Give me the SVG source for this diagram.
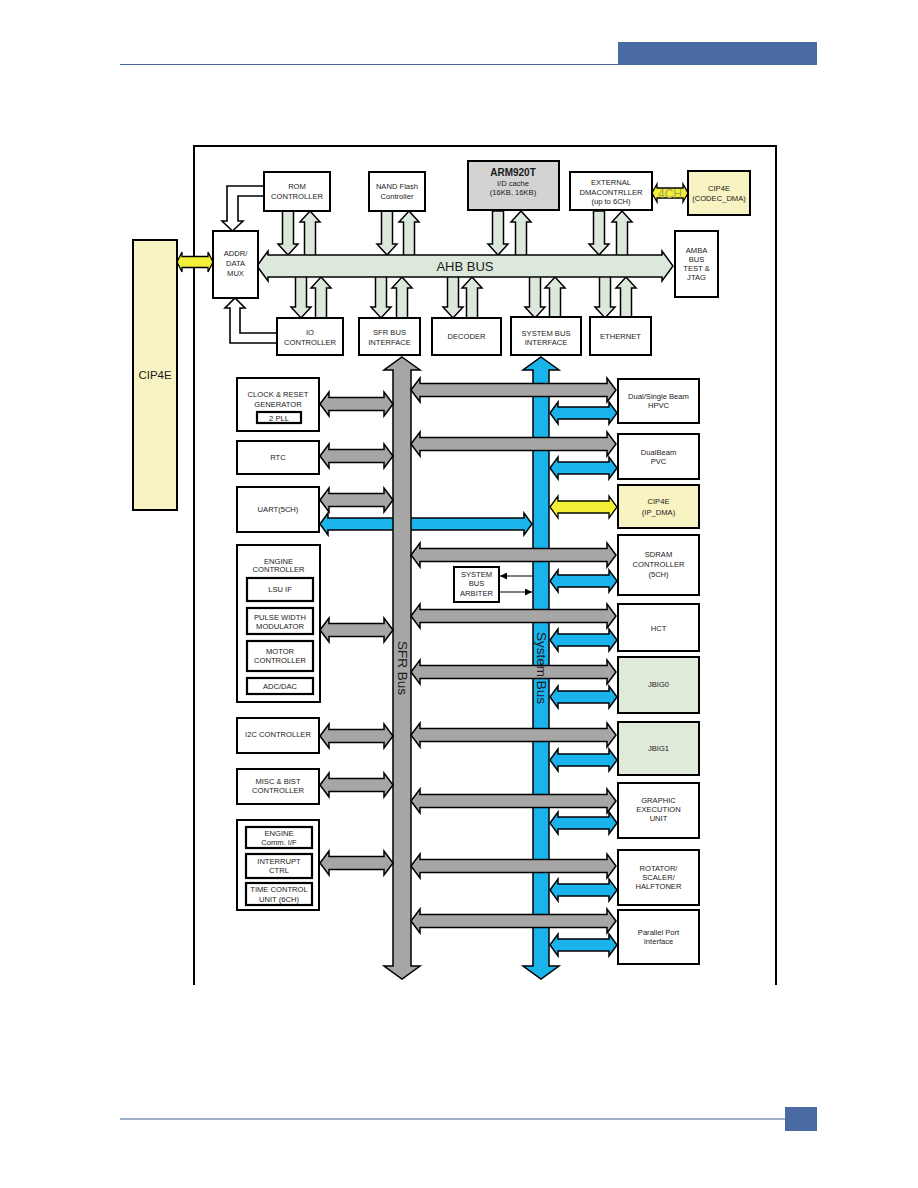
<svg xmlns="http://www.w3.org/2000/svg" xmlns:xlink="http://www.w3.org/1999/xlink" width="918" height="1188" viewBox="0 0 918 1188">
<style>
.box{fill:#fff;stroke:#000;stroke-width:2}
.ibox{fill:#fff;stroke:#000;stroke-width:2.2}
.gbox{fill:#d3d3d3;stroke:#000;stroke-width:2}
.ybox{fill:#f8f3c2;stroke:#000;stroke-width:2}
.jbox{fill:#dfeadb;stroke:#000;stroke-width:2}
.t{font-family:"Liberation Sans",Arial,sans-serif;font-size:7.6px;text-anchor:middle;fill:#1a1a1a}
.big{font-family:"Liberation Sans",Arial,sans-serif;text-anchor:middle;fill:#1a1a1a}
.ahb{fill:#dde8dc;stroke:#000;stroke-width:1.5}
.gray{fill:#a6a6a6;stroke:#000;stroke-width:1.5}
.blue{fill:#1ab3eb;stroke:#000;stroke-width:1.5}
.yel{fill:#f2ef36;stroke:#000;stroke-width:1.3}
.hol{fill:#fff;stroke:#000;stroke-width:1.6}
.thin{fill:none;stroke:#000;stroke-width:1.2}
</style>
<defs>
<polygon id="dA" points="-5.5,211 5.5,211 5.5,244 10,244 0,255 -10,244 -5.5,244"/>
<polygon id="uA" points="0,211 10,222 5.5,222 5.5,258 -5.5,258 -5.5,222 -10,222"/>
<polygon id="dB" points="-5.5,274 5.5,274 5.5,307 10,307 0,318 -10,307 -5.5,307"/>
<polygon id="uB" points="0,277 10,288 5.5,288 5.5,318 -5.5,318 -5.5,288 -10,288"/>
<polygon id="gR" points="411,0 420,-12 420,-6.5 607,-6.5 607,-12 616,0 607,12 607,6.5 420,6.5 420,12"/>
<polygon id="bR" points="550,0 558,-11 558,-6 609,-6 609,-11 617,0 609,11 609,6 558,6 558,11"/>
<polygon id="gL" points="320,0 329,-12 329,-6.5 384,-6.5 384,-12 393,0 384,12 384,6.5 329,6.5 329,12"/>
<marker id="ah" viewBox="0 0 10 10" refX="10" refY="5" markerWidth="7" markerHeight="7" orient="auto-start-reverse" markerUnits="userSpaceOnUse">
<path d="M0,0 L10,5 L0,10 z" fill="#000"/>
</marker>
</defs>

<!-- page header / footer -->
<g id="page">
<line x1="120" y1="64.5" x2="618" y2="64.5" stroke="#46659a" stroke-width="1"/>
<rect x="618" y="42" width="199" height="23" fill="#4a6aa3"/>
<line x1="120" y1="1119" x2="786" y2="1119" stroke="#46659a" stroke-width="1.2"/>
<rect x="785" y="1107" width="32" height="24" fill="#4a6aa3"/>
<path d="M194,985 L194,146 L776,146 L776,985" fill="none" stroke="#000" stroke-width="2"/>
</g>

<g id="connectors">
<!-- AHB vertical arrows above bus -->
<use href="#dA" x="288" class="ahb"/>
<use href="#uA" x="310" class="ahb"/>
<use href="#dA" x="387" class="ahb"/>
<use href="#uA" x="409" class="ahb"/>
<use href="#dA" x="498" class="ahb"/>
<use href="#uA" x="521" class="ahb"/>
<use href="#dA" x="599" class="ahb"/>
<use href="#uA" x="622" class="ahb"/>
<!-- AHB vertical arrows below bus -->
<use href="#dB" x="301" class="ahb"/>
<use href="#uB" x="321" class="ahb"/>
<use href="#dB" x="381" class="ahb"/>
<use href="#uB" x="402" class="ahb"/>
<use href="#dB" x="453" class="ahb"/>
<use href="#uB" x="472" class="ahb"/>
<use href="#dB" x="535" class="ahb"/>
<use href="#uB" x="555" class="ahb"/>
<use href="#dB" x="605" class="ahb"/>
<use href="#uB" x="626" class="ahb"/>
<!-- AHB bus -->
<polygon class="ahb" points="257,266 268,251 268,255 662,255 662,251 673,266 662,281 662,277 268,277 268,281"/>
<text class="big" x="465" y="271" font-size="13">AHB BUS</text>
<!-- hollow arrows into MUX -->
<path class="hol" d="M264,186 H227 V221 H222 L232.5,231 L243,221 H238 V196 H264"/>
<path class="hol" d="M277,343 H230 V308 H225 L235,298 L245,308 H240 V333 H277"/>
<!-- yellow arrows -->
<polygon class="yel" points="177,262 182,252 182,256.5 208,256.5 208,252 213,262 208,272 208,267.5 182,267.5 182,272"/>
<polygon class="yel" points="652,193 657,184 657,188 683,188 683,184 688,193 683,202 683,198 657,198 657,202"/>
<text class="big" x="670" y="197.5" font-size="12" style="fill:#a3a35a">4CH</text>
<!-- UART to System bus -->
<polygon class="blue" points="320,524 328,513 328,518 524,518 524,513 532,524 524,535 524,530 328,530 328,535"/>
<!-- vertical buses -->
<polygon class="gray" points="402,357 420,370 411,370 411,966 420,966 402,979 384,966 393,966 393,370 384,370"/>
<polygon class="blue" points="541,357 559,370 549,370 549,966 559,966 541,979 523,966 533,966 533,370 523,370"/>
<!-- left gray arrows -->
<use href="#gL" y="404" class="gray"/>
<use href="#gL" y="456" class="gray"/>
<use href="#gL" y="500" class="gray"/>
<use href="#gL" y="630" class="gray"/>
<use href="#gL" y="736" class="gray"/>
<use href="#gL" y="785" class="gray"/>
<use href="#gL" y="863" class="gray"/>
<!-- right gray arrows -->
<use href="#gR" y="390" class="gray"/>
<use href="#gR" y="444" class="gray"/>
<use href="#gR" y="555" class="gray"/>
<use href="#gR" y="616" class="gray"/>
<use href="#gR" y="672" class="gray"/>
<use href="#gR" y="735" class="gray"/>
<use href="#gR" y="801" class="gray"/>
<use href="#gR" y="866" class="gray"/>
<use href="#gR" y="921" class="gray"/>
<!-- right blue arrows -->
<use href="#bR" y="413" class="blue"/>
<use href="#bR" y="468" class="blue"/>
<use href="#bR" y="507" class="yel"/>
<use href="#bR" y="581" class="blue"/>
<use href="#bR" y="640" class="blue"/>
<use href="#bR" y="697" class="blue"/>
<use href="#bR" y="760" class="blue"/>
<use href="#bR" y="823" class="blue"/>
<use href="#bR" y="890" class="blue"/>
<use href="#bR" y="945" class="blue"/>
<!-- bus labels -->
<text class="big" font-size="13.5" fill="#222" transform="translate(397.5,668) rotate(90)">SFR Bus</text>
<text class="big" font-size="13.5" fill="#222" transform="translate(536.5,668) rotate(90)">System Bus</text>
<!-- arbiter -->
<line class="thin" x1="533" y1="576" x2="500" y2="576" marker-end="url(#ah)"/>
<line class="thin" x1="499" y1="592" x2="532" y2="592" marker-end="url(#ah)"/>
</g>

<g id="cip4e_left"><rect class="ybox" x="133" y="240" width="44" height="270"/><text class="big" x="155" y="379" font-size="11.5">CIP4E</text></g>
<g id="rom"><rect class="box" x="264" y="172" width="66" height="39"/><text class="t" x="297" y="189">ROM</text><text class="t" x="297" y="199">CONTROLLER</text></g>
<g id="nand"><rect class="box" x="369" y="172" width="56" height="39"/><text class="t" x="397" y="189">NAND Flash</text><text class="t" x="397" y="199">Controller</text></g>
<g id="arm"><rect class="gbox" x="468" y="161" width="91" height="49"/><text class="big" x="513" y="176" font-size="10" font-weight="bold">ARM920T</text><text class="t" x="513" y="186">I/D cache</text><text class="t" x="513" y="195">(16KB, 16KB)</text></g>
<g id="dma"><rect class="box" x="570" y="172" width="82" height="38"/><text class="t" x="611" y="185">EXTERNAL</text><text class="t" x="611" y="194.5">DMACONTRLLER</text><text class="t" x="611" y="204">(up to 6CH)</text></g>
<g id="cip4e_codec"><rect class="ybox" x="688" y="171" width="62" height="44"/><text class="t" x="719" y="191">CIP4E</text><text class="t" x="719" y="201">(CODEC_DMA)</text></g>
<g id="mux"><rect class="box" x="213" y="231" width="45" height="67"/><text class="t" x="235.5" y="256">ADDR/</text><text class="t" x="235.5" y="266">DATA</text><text class="t" x="235.5" y="276">MUX</text></g>
<g id="amba"><rect class="box" x="675" y="231" width="43" height="66"/><text class="t" x="696.5" y="253">AMBA</text><text class="t" x="696.5" y="262">BUS</text><text class="t" x="696.5" y="271">TEST &amp;</text><text class="t" x="696.5" y="280">JTAG</text></g>
<g id="io"><rect class="box" x="277" y="318" width="66" height="37"/><text class="t" x="310" y="335">IO</text><text class="t" x="310" y="345">CONTROLLER</text></g>
<g id="sfrif"><rect class="box" x="359" y="318" width="61" height="37"/><text class="t" x="389.5" y="335">SFR BUS</text><text class="t" x="389.5" y="345">INTERFACE</text></g>
<g id="decoder"><rect class="box" x="432" y="318" width="69" height="37"/><text class="t" x="466.5" y="339">DECODER</text></g>
<g id="sysif"><rect class="box" x="511" y="317" width="70" height="38"/><text class="t" x="546" y="336">SYSTEM BUS</text><text class="t" x="546" y="345">INTERFACE</text></g>
<g id="ethernet"><rect class="box" x="590" y="317" width="61" height="38"/><text class="t" x="620.5" y="339">ETHERNET</text></g>

<g id="clock"><rect class="box" x="237" y="378" width="82" height="53"/><text class="t" x="278" y="397">CLOCK &amp; RESET</text><text class="t" x="278" y="407">GENERATOR</text><rect class="ibox" x="257" y="412" width="44" height="11"/><text class="t" x="279" y="420.5">2 PLL</text></g>
<g id="rtc"><rect class="box" x="237" y="441" width="82" height="33"/><text class="t" x="278" y="460">RTC</text></g>
<g id="uart"><rect class="box" x="237" y="487" width="82" height="45"/><text class="t" x="278" y="512">UART(5CH)</text></g>
<g id="engine"><rect class="box" x="237" y="545" width="83" height="157"/><text class="t" x="278.5" y="563.5">ENGINE</text><text class="t" x="278.5" y="572">CONTROLLER</text>
<rect class="ibox" x="247" y="578" width="66" height="23"/><text class="t" x="280" y="592">LSU IF</text>
<rect class="ibox" x="247" y="608" width="66" height="26"/><text class="t" x="280" y="620">PULSE WIDTH</text><text class="t" x="280" y="629">MODULATOR</text>
<rect class="ibox" x="247" y="641" width="66" height="30"/><text class="t" x="280" y="654">MOTOR</text><text class="t" x="280" y="663">CONTROLLER</text>
<rect class="ibox" x="247" y="678" width="66" height="16"/><text class="t" x="280" y="689">ADC/DAC</text></g>
<g id="i2c"><rect class="box" x="237" y="718" width="82" height="35"/><text class="t" x="278" y="737">I2C CONTROLLER</text></g>
<g id="misc"><rect class="box" x="237" y="769" width="82" height="35"/><text class="t" x="278" y="784">MISC &amp; BIST</text><text class="t" x="278" y="793">CONTROLLER</text></g>
<g id="timers"><rect class="box" x="237" y="820" width="82" height="90"/>
<rect class="ibox" x="246" y="827" width="66" height="21"/><text class="t" x="279" y="836">ENGINE</text><text class="t" x="279" y="845">Comm. I/F</text>
<rect class="ibox" x="246" y="854" width="66" height="24"/><text class="t" x="279" y="864">INTERRUPT</text><text class="t" x="279" y="873">CTRL</text>
<rect class="ibox" x="246" y="883" width="66" height="22"/><text class="t" x="279" y="892">TIME CONTROL</text><text class="t" x="279" y="901.5">UNIT (6CH)</text></g>

<g id="arbiter"><rect class="box" x="454" y="567" width="45" height="35"/><text class="t" x="476.5" y="577">SYSTEM</text><text class="t" x="476.5" y="586">BUS</text><text class="t" x="476.5" y="595.5">ARBITER</text></g>

<g id="hpvc"><rect class="box" x="618" y="379" width="81" height="44"/><text class="t" x="658.5" y="399">Dual/Single Beam</text><text class="t" x="658.5" y="408">HPVC</text></g>
<g id="pvc"><rect class="box" x="618" y="434" width="81" height="45"/><text class="t" x="658.5" y="455">DualBeam</text><text class="t" x="658.5" y="464">PVC</text></g>
<g id="cip4e_ip"><rect class="ybox" x="618" y="485" width="81" height="43"/><text class="t" x="658.5" y="504">CIP4E</text><text class="t" x="658.5" y="514.5">(IP_DMA)</text></g>
<g id="sdram"><rect class="box" x="618" y="535" width="81" height="60"/><text class="t" x="658.5" y="557">SDRAM</text><text class="t" x="658.5" y="567">CONTROLLER</text><text class="t" x="658.5" y="577">(5CH)</text></g>
<g id="hct"><rect class="box" x="618" y="604" width="81" height="47"/><text class="t" x="658.5" y="631">HCT</text></g>
<g id="jbig0"><rect class="jbox" x="618" y="657" width="81" height="56"/><text class="t" x="658.5" y="687">JBIG0</text></g>
<g id="jbig1"><rect class="jbox" x="618" y="722" width="81" height="53"/><text class="t" x="658.5" y="751">JBIG1</text></g>
<g id="graphic"><rect class="box" x="618" y="783" width="81" height="55"/><text class="t" x="658.5" y="803">GRAPHIC</text><text class="t" x="658.5" y="812">EXECUTION</text><text class="t" x="658.5" y="821">UNIT</text></g>
<g id="rotator"><rect class="box" x="618" y="850" width="81" height="55"/><text class="t" x="658.5" y="871">ROTATOR/</text><text class="t" x="658.5" y="880">SCALER/</text><text class="t" x="658.5" y="889">HALFTONER</text></g>
<g id="parallel"><rect class="box" x="618" y="910" width="81" height="54"/><text class="t" x="658.5" y="935">Parallel Port</text><text class="t" x="658.5" y="944">Interface</text></g>
</svg>
